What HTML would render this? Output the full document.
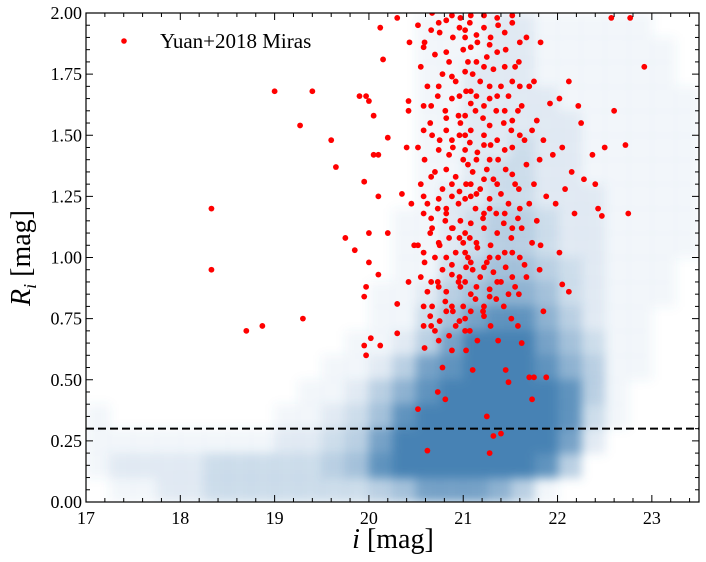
<!DOCTYPE html>
<html><head><meta charset="utf-8"><style>
body{margin:0;background:#fff;}
svg{display:block;font-family:"Liberation Serif","DejaVu Serif",serif;}
</style></head><body>
<svg id="chart" width="706" height="562" viewBox="0 0 706 562" xmlns="http://www.w3.org/2000/svg">
<defs>
<clipPath id="clip"><rect x="86" y="13" width="613" height="489"/></clipPath>
<filter id="blur" x="-5%" y="-5%" width="110%" height="110%"><feGaussianBlur stdDeviation="5"/></filter>
</defs>
<rect x="0" y="0" width="706" height="562" fill="#fff"/>
<g clip-path="url(#clip)"><g id="density" filter="url(#blur)"></g></g>
<g id="miras" clip-path="url(#clip)"></g>
<line id="cut" stroke="#000" stroke-width="2" stroke-dasharray="8,4"/>
<g id="axes"></g>
<g>
<circle cx="124" cy="41" r="2.8" fill="#ff0000"/>
<text x="160" y="48" font-size="21" fill="#000">Yuan+2018 Miras</text>
</g>
<text x="393" y="548" font-size="28" text-anchor="middle"><tspan font-style="italic">i</tspan> [mag]</text>
<text transform="translate(30,258) rotate(-90)" font-size="28" text-anchor="middle"><tspan font-style="italic">R</tspan><tspan font-style="italic" font-size="18" dy="6">i</tspan><tspan dy="-6"> [mag]</tspan></text>
</svg>
<script>
const xTicks=[17,18,19,20,21,22,23];
const yTicks=[0,0.25,0.5,0.75,1.0,1.25,1.5,1.75,2.0];
const yTickLabels=["0.00","0.25","0.50","0.75","1.00","1.25","1.50","1.75","2.00"];
const cutValue=0.30;
// density grid: columns i=17.0..23.25 step 0.25, rows R bins of 0.1 from top (1.9-2.0) to bottom (0-0.1)
const densityRows=[
"00000000000000111221111100",
"00000000000000111221111110",
"00000000000000112221111110",
"00000000000000112222111111",
"00000000000000112222211111",
"00000000000000112232211111",
"00000000000000112332211111",
"00000000000000122332221111",
"00000000000001123443221111",
"00000000000001123443221111",
"00000000000001134554321110",
"00000000000011245665321110",
"00000000000011357886421100",
"00000000000112479997531100",
"00000000001124789998641100",
"00000000011246899999841000",
"10000000112358999999831000",
"11111111223479999999720000",
"12222333334589999998400000",
"01122333333345777641000000"];
const miraCols=[20.45,20.55,20.62,20.70,20.78,20.85,20.92,21.0,21.05,21.1,21.18,21.25,21.32,21.4,21.48,21.55,21.62,21.7,21.78,21.85,21.95,22.05,22.15,22.25,22.4,22.5,22.6,22.75,22.8,22.95];
const miraRs=[
[1.60,1.22,1.05,0.90],
[1.95,1.78,1.62,1.45,1.30,1.18,1.05,0.92,0.72,0.38],
[1.88,1.70,1.55,1.40,1.22,1.10,0.98,0.86,0.76,0.63,0.21],
[2.0,1.83,1.66,1.50,1.35,1.20,1.12,1.00,0.90,0.80,0.70,0.45],
[1.92,1.75,1.60,1.48,1.28,1.15,1.05,0.95,0.82,0.74,0.55,0.42],
[1.97,1.80,1.65,1.52,1.42,1.25,1.18,1.08,0.93,0.86,0.68],
[1.90,1.72,1.58,1.45,1.33,1.22,1.12,1.02,0.90,0.78,0.72],
[1.98,1.85,1.68,1.55,1.40,1.30,1.15,1.06,0.96,0.88,0.80,0.62],
[1.93,1.80,1.63,1.50,1.38,1.25,1.10,1.00,0.85,0.75],
[1.96,1.75,1.60,1.47,1.35,1.20,1.08,0.95,0.83,0.70,0.54],
[1.88,1.72,1.57,1.43,1.28,1.16,1.04,0.92,0.78,0.66],
[1.99,1.82,1.65,1.50,1.36,1.24,1.12,0.98,0.87,0.76,0.35,0.20],
[1.90,1.77,1.60,1.46,1.32,1.18,1.05,0.94,0.83,0.72,0.27],
[1.95,1.70,1.55,1.40,1.26,1.14,1.00,0.90,0.80,0.66,0.28],
[1.85,1.66,1.52,1.36,1.22,1.08,0.96,0.85,0.75,0.54,0.49],
[1.96,1.78,1.60,1.45,1.30,1.16,1.02,0.88,0.72],
[1.80,1.62,1.48,1.28,1.12,0.97,0.85,0.65],
[1.90,1.70,1.52,1.38,1.22,1.06,0.92,0.51,0.42],
[1.72,1.56,1.40,1.30,1.15,0.95,0.51],
[1.88,1.48,1.25,1.05,0.78,0.51],
[1.63,1.42,1.22],
[1.65,1.45,1.28,1.02,0.89],
[1.72,1.35,1.18,0.86],
[1.62,1.55,1.32],
[1.42,1.30,1.20],
[1.17,1.45],
[1.98,1.60],
[1.46,1.18],
[1.98],
[1.78]];
// additional cluster members (second pass of reading the dense core)
const extraCols=[20.58,20.66,20.74,20.82,20.88,20.96,21.02,21.08,21.14,21.22,21.28,21.36,21.44,21.52,21.6];
const extraRs=[
[1.86,1.52,1.25,1.02,0.80],
[1.93,1.62,1.33,1.16,0.90,0.72],
[1.96,1.70,1.44,1.24,1.06,0.88,0.66],
[1.84,1.57,1.36,1.20,1.00,0.78],
[1.99,1.74,1.48,1.30,1.12,0.97,0.80,0.62],
[1.94,1.66,1.50,1.27,1.08,0.92,0.74],
[1.90,1.76,1.58,1.44,1.24,1.02,0.90,0.70],
[1.99,1.86,1.68,1.52,1.30,1.14,0.98,0.78],
[1.91,1.80,1.66,1.40,1.26,1.06,0.88],
[1.94,1.78,1.62,1.46,1.32,1.18,0.96,0.80],
[1.87,1.70,1.54,1.40,1.20,1.00,0.84],
[1.98,1.84,1.66,1.48,1.30,1.10,0.90],
[1.92,1.78,1.60,1.44,1.18,1.02],
[1.99,1.72,1.56,1.34,1.12,0.92],
[1.88,1.70,1.50,1.20,1.00]];
const outlierI=[18.33,18.33,18.7,18.87,19.3,19.0,19.27,19.4,19.6,19.65,19.75,19.85,19.9,19.97,20.0,20.05,20.05,19.95,20.1,20.1,20.0,20.0,19.97,19.95,19.95,19.97,20.02,20.1,20.12,20.2,20.2,20.15,20.12,20.3,20.3,20.3,20.35,20.4,20.42,20.43];
const outlierR=[1.20,0.95,0.70,0.72,0.75,1.68,1.54,1.68,1.48,1.37,1.08,1.03,1.66,1.66,1.64,1.58,1.42,1.31,1.42,1.25,1.10,0.98,0.88,0.84,0.64,0.60,0.67,0.93,0.64,1.10,1.49,1.81,1.94,1.98,0.81,0.69,1.26,1.45,1.64,1.88];

const X0=86,X1=699,Y0=502,Y1=13,iMin=17,iMax=23.5,rMin=0,rMax=2;
const sx=v=>X0+(v-iMin)/(iMax-iMin)*(X1-X0);
const sy=v=>Y0-(v-rMin)/(rMax-rMin)*(Y0-Y1);
const NS="http://www.w3.org/2000/svg";
function mk(tag,attrs,parent){const e=document.createElementNS(NS,tag);for(const k in attrs)e.setAttribute(k,attrs[k]);parent.appendChild(e);return e;}

const dens=document.getElementById('density');
densityRows.forEach((row,ri)=>{
  const rTop=2.0-ri*0.1;
  for(let ci=0;ci<row.length;ci++){
    const v=+row[ci]; if(!v)continue;
    const iL=17+ci*0.25;
    const r=mk('rect',{x:sx(iL),y:sy(rTop),width:sx(iL+0.25)-sx(iL)+0.5,height:sy(rTop-0.1)-sy(rTop)+0.5,fill:'#4682b4','fill-opacity':Math.pow(v/9,1.2).toFixed(3)},dens);
    
    
  }
});

const mg=document.getElementById('miras');
function dot(i,R){
  const c=mk('circle',{cx:sx(i),cy:sy(R),r:2.9,fill:'#ff0000'},mg);
  
  
}
miraCols.forEach((i,k)=>miraRs[k].forEach((R,j)=>dot(i+((j%3)-1)*0.03,R)));
extraCols.forEach((i,k)=>extraRs[k].forEach(R=>dot(i,R)));
outlierI.forEach((i,k)=>dot(i,outlierR[k]));

const cut=document.getElementById('cut');
cut.setAttribute('x1',X0);cut.setAttribute('x2',X1);
cut.setAttribute('y1',sy(cutValue));cut.setAttribute('y2',sy(cutValue));

const ax=document.getElementById('axes');
const frame=mk('rect',{x:X0,y:Y1,width:X1-X0,height:Y0-Y1,fill:'none',stroke:'#000','stroke-width':1.2},ax);


for(let k=0;k<=32;k++){
  const v=17+k*0.2; const x=sx(v); const major=k%5===0; const L=major?7:4;
  mk('line',{x1:x,x2:x,y1:Y0,y2:Y0-L,stroke:'#000','stroke-width':1},ax);
  mk('line',{x1:x,x2:x,y1:Y1,y2:Y1+L,stroke:'#000','stroke-width':1},ax);
}
for(let k=0;k<=40;k++){
  const v=k*0.05; const y=sy(v); const major=k%5===0; const L=major?7:4;
  mk('line',{x1:X0,x2:X0+L,y1:y,y2:y,stroke:'#000','stroke-width':1},ax);
  mk('line',{x1:X1,x2:X1-L,y1:y,y2:y,stroke:'#000','stroke-width':1},ax);
}
xTicks.forEach(v=>{
  const t=mk('text',{x:sx(v),y:Y0+22,'font-size':18,'text-anchor':'middle'},ax);
  t.textContent=v;
  
  
});
yTicks.forEach((v,k)=>{
  const t=mk('text',{x:X0-4,y:sy(v)+6,'font-size':18,'text-anchor':'end'},ax);
  t.textContent=yTickLabels[k];
  
  
});
</script>
</body></html>
